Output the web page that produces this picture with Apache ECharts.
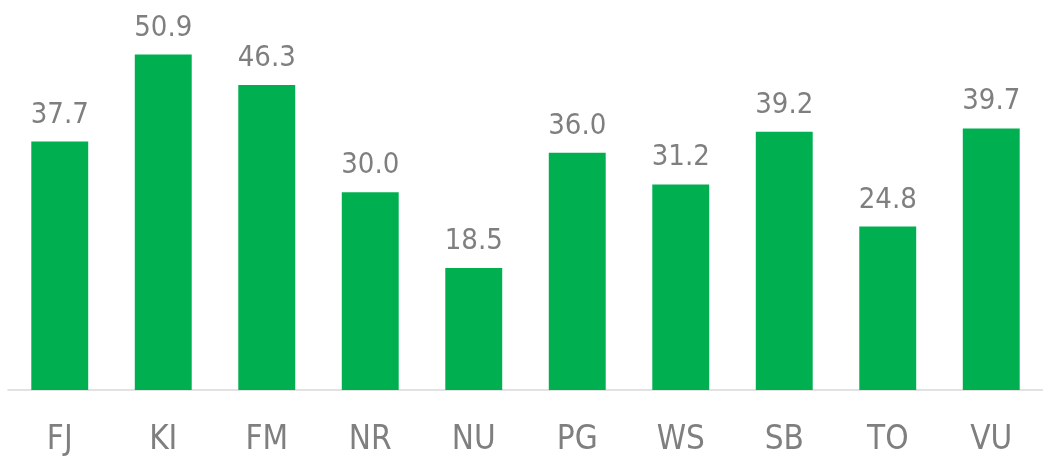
<!DOCTYPE html>
<html>
<head>
    <meta charset="UTF-8">
    <title>Bar chart</title>
    <script src="https://cdn.jsdelivr.net/npm/echarts@6/dist/echarts.min.js"></script>
    <style>
        html, body { margin: 0; padding: 0; background: #fff; }
        #chart { width: 1043px; height: 457px; }
    </style>
</head>
<body>
    <div id="chart"></div>

    <script>
        const categories = ['FJ', 'KI', 'FM', 'NR', 'NU', 'PG', 'WS', 'SB', 'TO', 'VU'];
        const values = [37.7, 50.9, 46.3, 30.0, 18.5, 36.0, 31.2, 39.2, 24.8, 39.7];

        const font = '"Liberation Sans Narrow", "DejaVu Sans Condensed", sans-serif';
        const myChart = echarts.init(document.getElementById('chart'));

        const option = {
            animation: false,
            grid: { left: 8, width: 1044, top: 21, bottom: 66 },
            xAxis: {
                type: 'category',
                data: categories,
                axisLine: { lineStyle: { color: '#d9d9d9', width: 1.5 } },
                axisTick: { show: false },
                axisLabel: {
                    color: '#7f7f7f',
                    fontFamily: font,
                    fontSize: 33,
                    margin: 34
                }
            },
            yAxis: {
                type: 'value',
                min: 0,
                max: 56,
                show: false,
                splitLine: { show: false }
            },
            series: [{
                type: 'bar',
                data: values,
                barCategoryGap: '45%',
                itemStyle: { color: '#00b050' },
                label: {
                    show: true,
                    position: 'top',
                    distance: 12,
                    color: '#7f7f7f',
                    fontFamily: font,
                    fontSize: 29,
                    formatter: p => p.value.toFixed(1)
                }
            }]
        };

        myChart.setOption(option);
    </script>
</body>
</html>
